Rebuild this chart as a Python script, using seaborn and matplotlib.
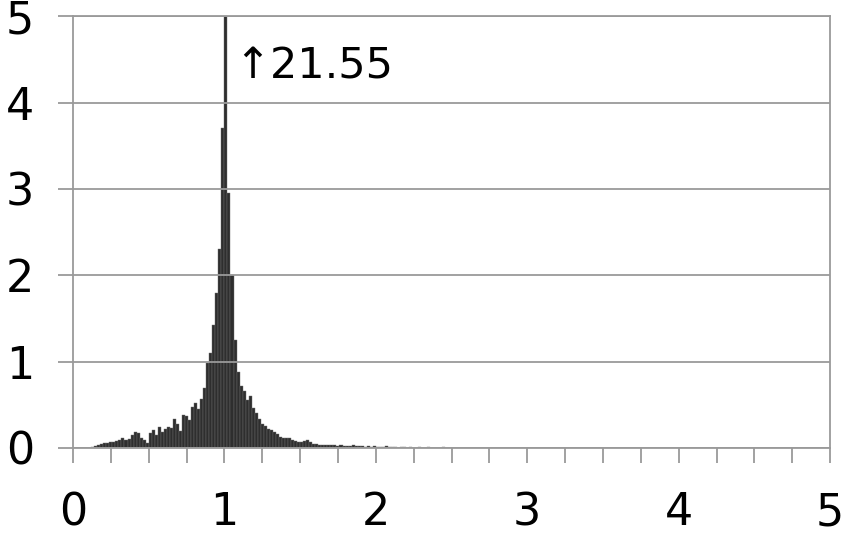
import numpy as np
import pandas as pd
import matplotlib
matplotlib.use("Agg")
import matplotlib.pyplot as plt
import seaborn as sns

sns.set_style("white")
plt.rcParams['font.family'] = ['DejaVu Sans']

# -----------------------------
# DATA (bin heights, bins of width 0.02 starting at 0.10)
# -----------------------------
bin_start = 0.10
bin_width = 0.02

heights_low = [0.00, 0.01, 0.02, 0.03, 0.05, 0.06, 0.06, 0.07, 0.07, 0.08,
               0.09, 0.11, 0.09, 0.10, 0.15, 0.19, 0.17, 0.12, 0.09, 0.06,
               0.17, 0.21, 0.15, 0.24, 0.18, 0.22, 0.24, 0.23, 0.33, 0.28,
               0.20, 0.38, 0.37, 0.32, 0.48, 0.52, 0.45, 0.57, 0.70, 0.98]
heights_peak = [1.10, 1.42, 1.80, 2.30, 3.70, 21.55, 2.95, 2.00, 1.25, 0.88]
heights_high = [0.72, 0.66, 0.55, 0.60, 0.46, 0.40, 0.33, 0.28, 0.25, 0.22,
                0.21, 0.18, 0.16, 0.13, 0.12, 0.12, 0.11, 0.09, 0.08, 0.07,
                0.07, 0.08, 0.09, 0.07, 0.05, 0.05, 0.04, 0.04, 0.04, 0.03,
                0.03, 0.03, 0.02, 0.03, 0.02, 0.02, 0.02, 0.03, 0.02, 0.02,
                0.02, 0.01, 0.02, 0.01, 0.02, 0.01, 0.01, 0.01, 0.02, 0.01]
heights_tail = [0.01, 0.01, 0.005, 0.01, 0.01, 0.005, 0.01, 0.005, 0.005, 0.01,
                0.005, 0.005, 0.01, 0.005, 0.0, 0.005, 0.005, 0.01, 0.005, 0.0,
                0.005, 0.005, 0.0, 0.005, 0.005, 0.0, 0.005, 0.0, 0.005, 0.005,
                0.0, 0.005, 0.0, 0.0, 0.005, 0.0, 0.005, 0.0, 0.0, 0.005,
                0.0, 0.0, 0.005, 0.0, 0.0, 0.005, 0.0, 0.0, 0.0, 0.005]

heights = heights_low + heights_peak + heights_high + heights_tail
peak_label = "\u219121.55"

x_ticks = [0, 1, 2, 3, 4, 5]
y_ticks = [0, 1, 2, 3, 4, 5]

edges = [round(bin_start + bin_width * i, 4) for i in range(len(heights) + 1)]
centers = [(edges[i] + edges[i + 1]) / 2 for i in range(len(heights))]
df = pd.DataFrame({"ratio": centers, "h": heights})

# -----------------------------
# PLOT
# -----------------------------
fig = plt.figure(figsize=(8.47, 5.38), dpi=100)
ax = fig.add_axes([0.0862, 0.1673, 0.8938, 0.8027])

sns.histplot(data=df, x="ratio", weights="h", bins=edges, ax=ax,
             color="#2e2e2e", edgecolor="#6e6e6e", linewidth=0.3, alpha=1)

ax.set_xlim(0, 5)
ax.set_ylim(0, 5)
ax.set_xticks(x_ticks)
ax.set_xticks(np.arange(0, 5.01, 0.25), minor=True)
ax.set_yticks(y_ticks)
ax.set_xlabel("")
ax.set_ylabel("")

ax.yaxis.grid(True, color="#9a9a9a", linewidth=1.3)
ax.set_axisbelow(False)
for s in ax.spines.values():
    s.set_color("#9a9a9a")
    s.set_linewidth(1.3)

ax.tick_params(axis="both", which="both", direction="out", length=11,
               width=1.3, color="#9a9a9a", labelsize=32, labelcolor="black")
ax.tick_params(axis="x", which="both", pad=20)
ax.tick_params(axis="y", pad=17)
ax.tick_params(left=True, bottom=True)
ax.tick_params(axis="x", which="minor", bottom=True)

ax.text(1.065, 4.42, peak_label, fontsize=31, color="black",
        ha="left", va="center")

plt.savefig("out.png", dpi=100)
